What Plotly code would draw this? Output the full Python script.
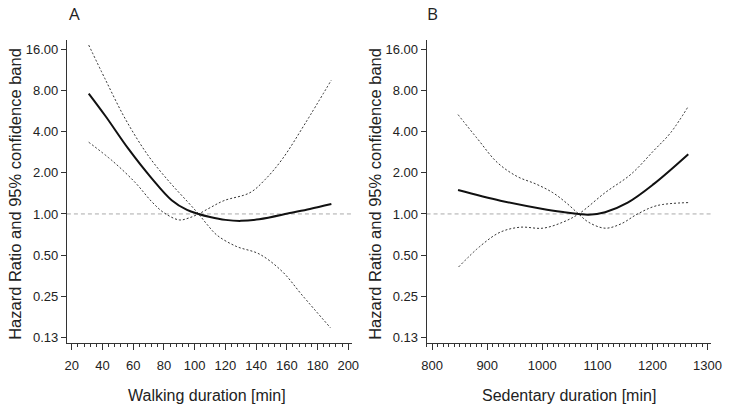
import plotly.graph_objects as go

# ---------------- data ----------------
# Panel A: walking duration [min]
walk_hr_x = [31, 42, 57, 72, 85, 95, 102.5, 110, 120, 130, 142, 163, 175, 189]
walk_hr = [7.57, 5.17, 2.97, 1.82, 1.26, 1.07, 1.0, 0.95, 0.905, 0.89, 0.914, 1.02, 1.087, 1.18]

walk_band1_x = [31, 42, 55, 70, 84, 95, 102.5, 108, 114.5, 127, 142, 157, 170, 188.5]
walk_band1 = [17.1, 9.5, 4.9, 2.64, 1.69, 1.24, 1.0, 0.84, 0.70, 0.58, 0.51, 0.38, 0.255, 0.147]

walk_band2_x = [31, 46.6, 61.4, 72, 80, 90, 96, 102.5, 110, 119, 136, 146, 157, 172, 189]
walk_band2 = [3.34, 2.43, 1.69, 1.23, 1.02, 0.904, 0.933, 1.0, 1.11, 1.25, 1.43, 1.79, 2.51, 4.59, 9.5]

# Panel B: sedentary duration [min]
sed_hr_x = [847, 924, 1001, 1040, 1066, 1084, 1114, 1155, 1202, 1265]
sed_hr = [1.495, 1.25, 1.087, 1.03, 1.0, 0.986, 1.03, 1.21, 1.65, 2.73]

sed_band1_x = [847, 883, 918, 954, 989, 1019, 1043, 1066, 1084, 1114, 1143, 1173, 1208, 1265]
sed_band1 = [5.31, 3.51, 2.38, 1.88, 1.65, 1.43, 1.21, 1.0, 0.87, 0.787, 0.847, 1.0, 1.15, 1.21]

sed_band2_x = [848, 889, 924, 960, 1001, 1037, 1066, 1114, 1161, 1202, 1233, 1265]
sed_band2 = [0.41, 0.59, 0.737, 0.80, 0.787, 0.87, 1.0, 1.43, 1.95, 2.89, 3.92, 6.1]

y_tickvals = [0.125, 0.25, 0.5, 1, 2, 4, 8, 16]
y_ticktext = ["0.13", "0.25", "0.50", "1.00", "2.00", "4.00", "8.00", "16.00"]
reference_hr = 1.0

y_title = "Hazard Ratio and 95% confidence band"
x_title_a = "Walking duration [min]"
x_title_b = "Sedentary duration [min]"

# ---------------- figure ----------------
W, H = 733, 408
FONT = "Liberation Sans, Arial, sans-serif"
TXT = "#222222"
AX = "#333333"

fig = go.Figure()

def add_panel(xs, ys, xa, ya, solid):
    fig.add_trace(go.Scatter(
        x=xs, y=ys, xaxis=xa, yaxis=ya, mode="lines",
        line=dict(color="#111111" if solid else "#333333",
                  width=2 if solid else 1,
                  dash="solid" if solid else "2px,2px",
                  shape="spline", smoothing=1.0),
        showlegend=False, hoverinfo="skip"))

add_panel(walk_band1_x, walk_band1, "x", "y", False)
add_panel(walk_band2_x, walk_band2, "x", "y", False)
add_panel(walk_hr_x, walk_hr, "x", "y", True)
add_panel(sed_band1_x, sed_band1, "x2", "y2", False)
add_panel(sed_band2_x, sed_band2, "x2", "y2", False)
add_panel(sed_hr_x, sed_hr, "x2", "y2", True)

def px_x(p):
    return p / W

def px_y(p):
    return 1 - p / H

ydom = [px_y(345), px_y(40)]
yrange = [-0.9447, 1.2716]

common_x = dict(showline=True, linecolor=AX, linewidth=1, ticks="outside",
                ticklen=6, tickwidth=1, tickcolor=AX, showgrid=False, zeroline=False,
                ticklabelstandoff=4,
                tickfont=dict(family=FONT, size=13, color=TXT))
minor_x = dict(ticks="outside", ticklen=3, tickwidth=1, tickcolor=AX, showgrid=False)
common_y = dict(type="log", range=yrange, domain=ydom, showline=True, linecolor=AX,
                linewidth=1, ticks="outside", ticklen=5, tickwidth=1, tickcolor=AX,
                showgrid=False, zeroline=False, tickvals=y_tickvals, ticktext=y_ticktext,
                tickfont=dict(family=FONT, size=13, color=TXT))

fig.update_layout(
    width=W, height=H, margin=dict(l=0, r=0, t=0, b=0),
    paper_bgcolor="white", plot_bgcolor="white",
    xaxis=dict(domain=[px_x(63.3), px_x(355)], range=[16.8, 202.6], anchor="y",
               tick0=20, dtick=20, minor=dict(minor_x, dtick=4, tick0=20), **common_x),
    yaxis=dict(anchor="x", **common_y),
    xaxis2=dict(domain=[px_x(431), px_x(722)], range=[789.9, 1306.7], anchor="y2",
                tick0=800, dtick=100, minor=dict(minor_x, dtick=10, tick0=800), **common_x),
    yaxis2=dict(anchor="x2", **common_y),
)

for xr, yr in [("x domain", "y"), ("x2 domain", "y2")]:
    fig.add_shape(type="line", xref=xr, yref=yr, x0=0, x1=1, y0=reference_hr, y1=reference_hr,
                  line=dict(color="#aaaaaa", width=1, dash="4px,3px"), layer="below")

ann = []
ann.append(dict(text=y_title, x=px_x(10), y=px_y(195), textangle=-90, yanchor="middle",
                font=dict(family=FONT, size=16.5, color=TXT)))
ann.append(dict(text=y_title, x=px_x(378), y=px_y(195), textangle=-90, yanchor="middle",
                font=dict(family=FONT, size=16.5, color=TXT)))
ann.append(dict(text=x_title_a, x=px_x(207), y=px_y(397), yanchor="middle",
                font=dict(family=FONT, size=16, color=TXT)))
ann.append(dict(text=x_title_b, x=px_x(577), y=px_y(397), yanchor="middle",
                font=dict(family=FONT, size=16, color=TXT)))
ann.append(dict(text="A", x=px_x(71), y=px_y(0), yanchor="top",
                font=dict(family="Open Sans, sans-serif", size=17, color=TXT)))
ann.append(dict(text="B", x=px_x(437), y=px_y(0), yanchor="top",
                font=dict(family="Open Sans, sans-serif", size=17, color=TXT)))
for a in ann:
    fig.add_annotation(xref="paper", yref="paper", showarrow=False, xanchor="center", **a)

fig.write_html("out.html", config={"displayModeBar": False},
               post_script="document.body.style.margin='0';document.body.style.padding='0';")
